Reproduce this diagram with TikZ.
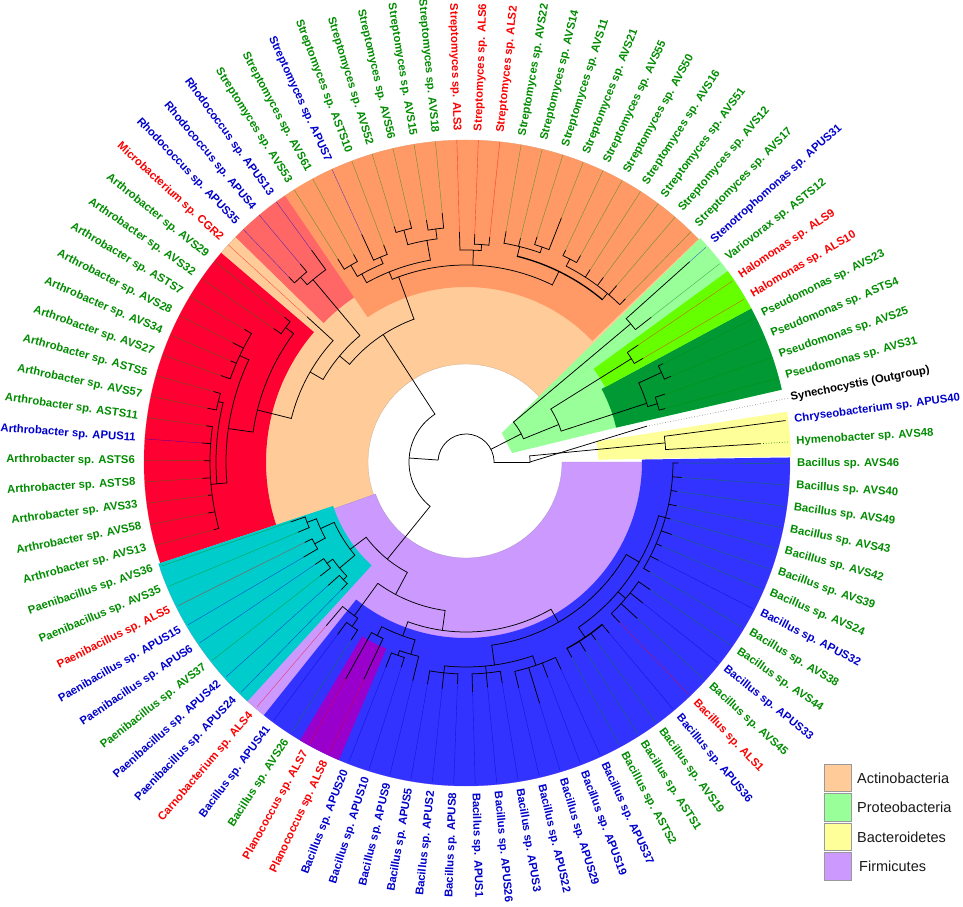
\documentclass[tikz,border=0pt]{standalone}
\usepackage{fontspec}
\setmainfont{Liberation Sans}
\definecolor{cg}{RGB}{0,140,0}
\definecolor{cb}{RGB}{0,0,205}
\definecolor{cr}{RGB}{250,0,0}
\definecolor{ck}{RGB}{0,0,0}
\definecolor{actc}{HTML}{FFCC99}
\definecolor{proc}{HTML}{99FF99}
\definecolor{bacc}{HTML}{FFFF99}
\definecolor{firc}{HTML}{CC99FF}
\definecolor{strc}{HTML}{FF9966}
\definecolor{rhoc}{HTML}{FF6666}
\definecolor{artc}{HTML}{FF0033}
\definecolor{paec}{HTML}{00CCCC}
\definecolor{bluc}{HTML}{3333FF}
\definecolor{plac}{HTML}{9900CC}
\definecolor{dgrc}{HTML}{009933}
\definecolor{bgrc}{HTML}{66FF00}
\newcommand{\mysect}[5]{\fill[#5] (#1:#3pt) arc[start angle=#1,end angle=#2,radius=#3pt] -- (#2:#4pt) arc[start angle=#2,end angle=#1,radius=#4pt] -- cycle;}
\newcommand{\tarc}[3]{\draw[br] (#2:#1pt) arc[start angle=#2,end angle=#3,radius=#1pt];}
\newcommand{\tarcb}[3]{\draw[br, line width=1.3pt] (#2:#1pt) arc[start angle=#2,end angle=#3,radius=#1pt];}
\newcommand{\trad}[3]{\draw[br] (#1:#2pt) -- (#1:#3pt);}
\begin{document}
\begin{tikzpicture}[
  br/.style={draw=black, line width=0.75pt, line cap=round},
  leafl/.style={line width=0.4pt, opacity=0.6},
  lab/.style={font=\bfseries\fontsize{11.3}{13}\selectfont, inner sep=0pt},
  legbox/.style={draw=black!40, line width=0.9pt, minimum width=27.5pt, minimum height=27.5pt, inner sep=0pt},
  legtxt/.style={font=\fontsize{14.5}{17}\selectfont, inner sep=0pt, anchor=west, text=black!90}
]
\useasboundingbox (0,0) rectangle (963pt,906pt);
\fill[white] (0,0) rectangle (963pt,906pt);
\begin{scope}[shift={(466pt,444pt)}]
% ---------- coloured regions ----------
\mysect{38}{199.5}{98}{322}{actc, draw=actc!75!black!80, line width=0.3pt}
\mysect{199.5}{360}{96}{324}{firc, draw=firc!75!black!80, line width=0.3pt}
\mysect{43.8}{124.2}{175}{322}{strc}
\mysect{124.2}{135.7}{199}{322}{rhoc}
\mysect{139.5}{198.3}{200}{322}{artc}
\mysect{198.3}{227.6}{140}{324}{paec}
\mysect{231.4}{360.8}{176}{324}{bluc}
\mysect{239.2}{246.9}{203}{324}{plac}
\fill[proc] (11:47pt) -- (12.9:155pt) -- (12.9:324pt) arc[start angle=12.9,end angle=43.7,radius=324pt] -- (39:46pt) -- cycle;
\mysect{12.9}{28.3}{154}{324}{dgrc}
\mysect{28.3}{36.1}{158}{324}{bgrc}
\mysect{1}{8.9}{132}{325}{bacc}
% ---------- backbone ----------
\tarc{28}{0}{176}
\trad{176}{28}{57}
\tarc{57}{123}{231}
\trad{123}{57}{152}
\trad{231}{57}{125}
\trad{27}{28}{62}
\trad{0}{28}{64}
% Bacteroidetes + outgroup
\tarc{64}{0}{5.47}
\trad{5.47}{64}{200}
\tarc{200}{3.56}{7.39}
\draw[br] (0:64pt) -- (11.2:184pt);
\draw[dotted, black!45, line width=0.7pt] (11.2:184pt) -- (11.2:328pt);
\draw[dotted, cg, line width=0.7pt] (3.56:295pt) -- (3.56:323pt);
% Proteobacteria
\tarc{62}{22}{40}
\trad{40}{62}{215}
\tarc{215}{38.01}{41.84}
\trad{22}{62}{100}
\tarc{100}{18}{32}
\trad{32}{100}{195}
\tarc{195}{30.35}{34.18}
\trad{18}{100}{190}
\tarc{190}{16.95}{24.6}
\trad{16.95}{190}{200}
\tarc{200}{15.03}{18.86}
\trad{24.6}{190}{215}
\tarc{215}{22.69}{26.52}
% Actinobacteria
\tarc{152}{110}{140}
\trad{110}{152}{197}
\tarc{197}{64}{112}
\trad{112}{197}{205}
\tarc{205}{100}{119}
\trad{119}{205}{215}
\tarc{215}{112.7}{120.35}
\trad{112.7}{215}{222}
\tarc{222}{110.78}{114.61}
\trad{120.35}{215}{228}
\tarc{228}{118.44}{122.27}
\trad{100}{205}{225}
\tarc{225}{97.4}{105}
\trad{97.4}{225}{235}
\tarc{235}{95.46}{99.29}
\trad{105}{225}{240}
\tarc{240}{103.12}{106.95}
\trad{88}{197}{212}
\tarc{212}{85.9}{91.63}
\trad{85.9}{212}{218}
\tarc{218}{83.97}{87.8}
\trad{64}{197}{212}
\tarcb{212}{50}{76}
\trad{76}{212}{222}
\tarc{222}{70.5}{80.14}
\trad{70.5}{222}{228}
\tarc{228}{68.65}{72.48}
\trad{50}{212}{220}
\tarc{220}{45.67}{62.9}
\trad{62.9}{220}{228}
\tarc{228}{60.99}{64.82}
\trad{140}{152}{165}
\tarc{165}{130}{150}
\trad{130}{165}{238}
\tarc{238}{126.1}{131.85}
\trad{131.85}{238}{248}
\tarc{248}{129.93}{133.76}
\trad{150}{165}{180}
\tarc{180}{137.59}{166}
\trad{166}{180}{215}
\tarc{215}{143.3}{172}
\trad{143.3}{215}{225}
\tarc{225}{141.42}{145.25}
\trad{172}{215}{240}
\tarc{240}{154.8}{185}
\trad{154.8}{240}{250}
\tarc{250}{149.08}{160.57}
\trad{185}{240}{250}
\tarc{250}{166.3}{185}
\trad{166.3}{250}{255}
\tarc{255}{164.4}{168.23}
\trad{185}{250}{256}
\tarc{256}{172.06}{195.04}
% Firmicutes
\tarc{125}{217}{242}
\trad{217}{125}{145}
\tarc{145}{204.6}{220}
\trad{204.6}{145}{160}
\tarc{160}{200.8}{208.4}
\trad{200.8}{160}{170}
\tarc{170}{198.87}{202.7}
\trad{208.4}{160}{172}
\tarc{172}{206.53}{210.36}
\trad{220}{145}{165}
\tarc{165}{216.1}{223.8}
\trad{216.1}{165}{172}
\tarc{172}{214.19}{218.02}
\trad{223.8}{165}{170}
\tarc{170}{221.85}{225.68}
\trad{242}{125}{150}
\tarc{150}{234}{262}
\trad{234}{150}{190}
\tarc{190}{229.51}{235.3}
\trad{235.3}{190}{200}
\tarc{200}{233.34}{237.17}
\trad{262}{150}{170}
\tarc{170}{250}{300}
\trad{250}{170}{185}
\tarc{185}{242.9}{254}
\trad{242.9}{185}{195}
\tarc{195}{241}{244.83}
\trad{254}{185}{200}
\tarc{200}{250.6}{256.32}
\trad{250.6}{200}{205}
\tarc{205}{248.66}{252.49}
\trad{300}{170}{185}
\tarc{185}{278}{330}
\trad{278}{185}{205}
\tarc{205}{264}{289}
\trad{264}{205}{212}
\tarc{212}{260.15}{267.81}
\trad{275.5}{205}{212}
\tarc{212}{271.64}{279.3}
\trad{289}{205}{215}
\tarc{215}{283.13}{294.62}
\trad{330}{185}{200}
\tarc{200}{304.2}{344.4}
\trad{304.2}{200}{212}
\tarcb{212}{298.45}{309.94}
\trad{319.5}{200}{210}
\tarc{210}{313.77}{325.26}
\trad{344.4}{200}{207}
\tarc{207}{329.09}{359.73}
% ---------- leaves ----------
\foreach \i/\p/\t/\e/\c/\n in {
0/184/184/184/ck/{Synechocystis (Outgroup)},
1/200/206/322/cg/{Pseudomonas sp. AVS31},
2/200/210/322/cg/{Pseudomonas sp. AVS25},
3/215/222/322/cg/{Pseudomonas sp. ASTS4},
4/215/220/322/cg/{Pseudomonas sp. AVS23},
5/195/205/322/cr/{Halomonas sp. ALS10},
6/195/208/322/cr/{Halomonas sp. ALS9},
7/215/235/322/cg/{Variovorax sp. ASTS12},
8/215/300/322/cb/{Stenotrophomonas sp. APUS31},
9/220/228/322/cg/{Streptomyces sp. AVS17},
10/220/232/322/cg/{Streptomyces sp. AVS12},
11/220/230/322/cg/{Streptomyces sp. AVS51},
12/220/229/322/cg/{Streptomyces sp. AVS16},
13/228/236/322/cg/{Streptomyces sp. AVS50},
14/228/234/322/cg/{Streptomyces sp. AVS55},
15/228/262/322/cg/{Streptomyces sp. AVS21},
16/228/236/322/cg/{Streptomyces sp. AVS11},
17/222/230/322/cg/{Streptomyces sp. AVS14},
18/222/234/322/cg/{Streptomyces sp. AVS22},
19/218/226/322/cr/{Streptomyces sp. ALS2},
20/218/228/322/cr/{Streptomyces sp. ALS6},
21/212/230/322/cr/{Streptomyces sp. ALS3},
22/235/250/322/cg/{Streptomyces sp. AVS18},
23/235/245/322/cg/{Streptomyces sp. AVS15},
24/240/248/322/cg/{Streptomyces sp. AVS56},
25/240/246/322/cg/{Streptomyces sp. AVS52},
26/222/232/322/cg/{Streptomyces sp. ASTS10},
27/222/250/322/cb/{Streptomyces sp. APUS7},
28/228/236/322/cg/{Streptomyces sp. AVS61},
29/228/240/322/cg/{Streptomyces sp. AVS53},
30/238/262/322/cb/{Rhodococcus sp. APUS13},
31/248/258/322/cb/{Rhodococcus sp. APUS4},
32/248/256/322/cb/{Rhodococcus sp. APUS35},
33/180/215/322/cr/{Microbacterium sp. CGR2},
34/225/232/322/cg/{Arthrobacter sp. AVS29},
35/225/234/322/cg/{Arthrobacter sp. AVS32},
36/250/258/322/cg/{Arthrobacter sp. ASTS7},
37/250/262/322/cg/{Arthrobacter sp. AVS28},
38/250/256/322/cg/{Arthrobacter sp. AVS34},
39/250/260/322/cg/{Arthrobacter sp. AVS27},
40/255/262/322/cg/{Arthrobacter sp. ASTS5},
41/255/264/322/cg/{Arthrobacter sp. AVS57},
42/256/262/322/cg/{Arthrobacter sp. ASTS11},
43/256/265/322/cb/{Arthrobacter sp. APUS11},
44/256/262/322/cg/{Arthrobacter sp. ASTS6},
45/256/264/322/cg/{Arthrobacter sp. ASTS8},
46/256/260/322/cg/{Arthrobacter sp. AVS33},
47/256/263/322/cg/{Arthrobacter sp. AVS58},
48/256/261/322/cg/{Arthrobacter sp. AVS13},
49/170/185/322/cg/{Paenibacillus sp. AVS36},
50/170/182/322/cg/{Paenibacillus sp. AVS35},
51/172/180/322/cr/{Paenibacillus sp. ALS5},
52/172/188/322/cb/{Paenibacillus sp. APUS15},
53/172/182/322/cb/{Paenibacillus sp. APUS6},
54/172/185/322/cg/{Paenibacillus sp. AVS37},
55/170/185/322/cb/{Paenibacillus sp. APUS42},
56/170/178/322/cb/{Paenibacillus sp. APUS24},
57/190/215/322/cr/{Carnobacterium sp. ALS4},
58/200/215/322/cb/{Bacillus sp. APUS41},
59/200/212/322/cg/{Bacillus sp. AVS26},
60/195/248/322/cr/{Planococcus sp. ALS7},
61/195/240/322/cr/{Planococcus sp. ALS8},
62/205/220/322/cb/{Bacillus sp. APUS20},
63/205/215/322/cb/{Bacillus sp. APUS10},
64/200/225/322/cb/{Bacillus sp. APUS9},
65/212/225/322/cb/{Bacillus sp. APUS5},
66/212/228/322/cb/{Bacillus sp. APUS2},
67/212/222/322/cb/{Bacillus sp. APUS8},
68/212/230/322/cb/{Bacillus sp. APUS1},
69/212/226/322/cb/{Bacillus sp. APUS26},
70/212/224/322/cb/{Bacillus sp. APUS3},
71/215/232/322/cb/{Bacillus sp. APUS22},
72/215/252/322/cb/{Bacillus sp. APUS29},
73/215/230/322/cb/{Bacillus sp. APUS19},
74/215/228/322/cb/{Bacillus sp. APUS37},
75/212/222/322/cg/{Bacillus sp. ASTS2},
76/212/224/322/cg/{Bacillus sp. ASTS1},
77/212/220/322/cg/{Bacillus sp. AVS19},
78/212/223/322/cb/{Bacillus sp. APUS36},
79/210/222/322/cr/{Bacillus sp. ALS1},
80/210/232/322/cg/{Bacillus sp. AVS45},
81/210/226/322/cb/{Bacillus sp. APUS33},
82/210/224/322/cg/{Bacillus sp. AVS44},
83/207/214/322/cg/{Bacillus sp. AVS38},
84/207/216/322/cb/{Bacillus sp. APUS32},
85/207/213/322/cg/{Bacillus sp. AVS24},
86/207/218/322/cg/{Bacillus sp. AVS39},
87/207/212/322/cg/{Bacillus sp. AVS42},
88/207/215/322/cg/{Bacillus sp. AVS43},
89/207/213/322/cg/{Bacillus sp. AVS49},
90/207/216/322/cg/{Bacillus sp. AVS40},
91/207/212/322/cg/{Bacillus sp. AVS46},
92/200/295/295/cg/{Hymenobacter sp. AVS48},
93/200/322/322/cb/{Chryseobacterium sp. APUS40}}{
  \pgfmathsetmacro\a{11.2+3.83*\i}
  \draw[br] (\a:\p pt) -- (\a:\t pt);
  \draw[leafl, draw=\c] (\a:\t pt) -- (\a:\e pt);
  \pgfmathtruncatemacro\side{(\a>90 && \a<270) ? 1 : 0}
  \ifnum\side=1
    \pgfmathsetmacro\rr{\a-180}
    \node[lab, text=\c, anchor=east, rotate=\rr] (L\i) at (\a:331pt) {\n};
  \else
    \node[lab, text=\c, anchor=west, rotate=\a] (L\i) at (\a:331pt) {\n};
  \fi
}
\end{scope}
% ---------- legend ----------
\node[legbox, fill=actc] (lb1) at (838pt,128pt) {};
\node[legtxt] (lt1) at (857pt,128pt) {Actinobacteria};
\node[legbox, fill=proc] (lb2) at (838pt,98.5pt) {};
\node[legtxt] (lt2) at (857pt,98.5pt) {Proteobacteria};
\node[legbox, fill=bacc] (lb3) at (838pt,69pt) {};
\node[legtxt] (lt3) at (857pt,69pt) {Bacteroidetes};
\node[legbox, fill=firc] (lb4) at (838pt,39.5pt) {};
\node[legtxt] (lt4) at (859pt,39.5pt) {Firmicutes};
\end{tikzpicture}
\end{document}
